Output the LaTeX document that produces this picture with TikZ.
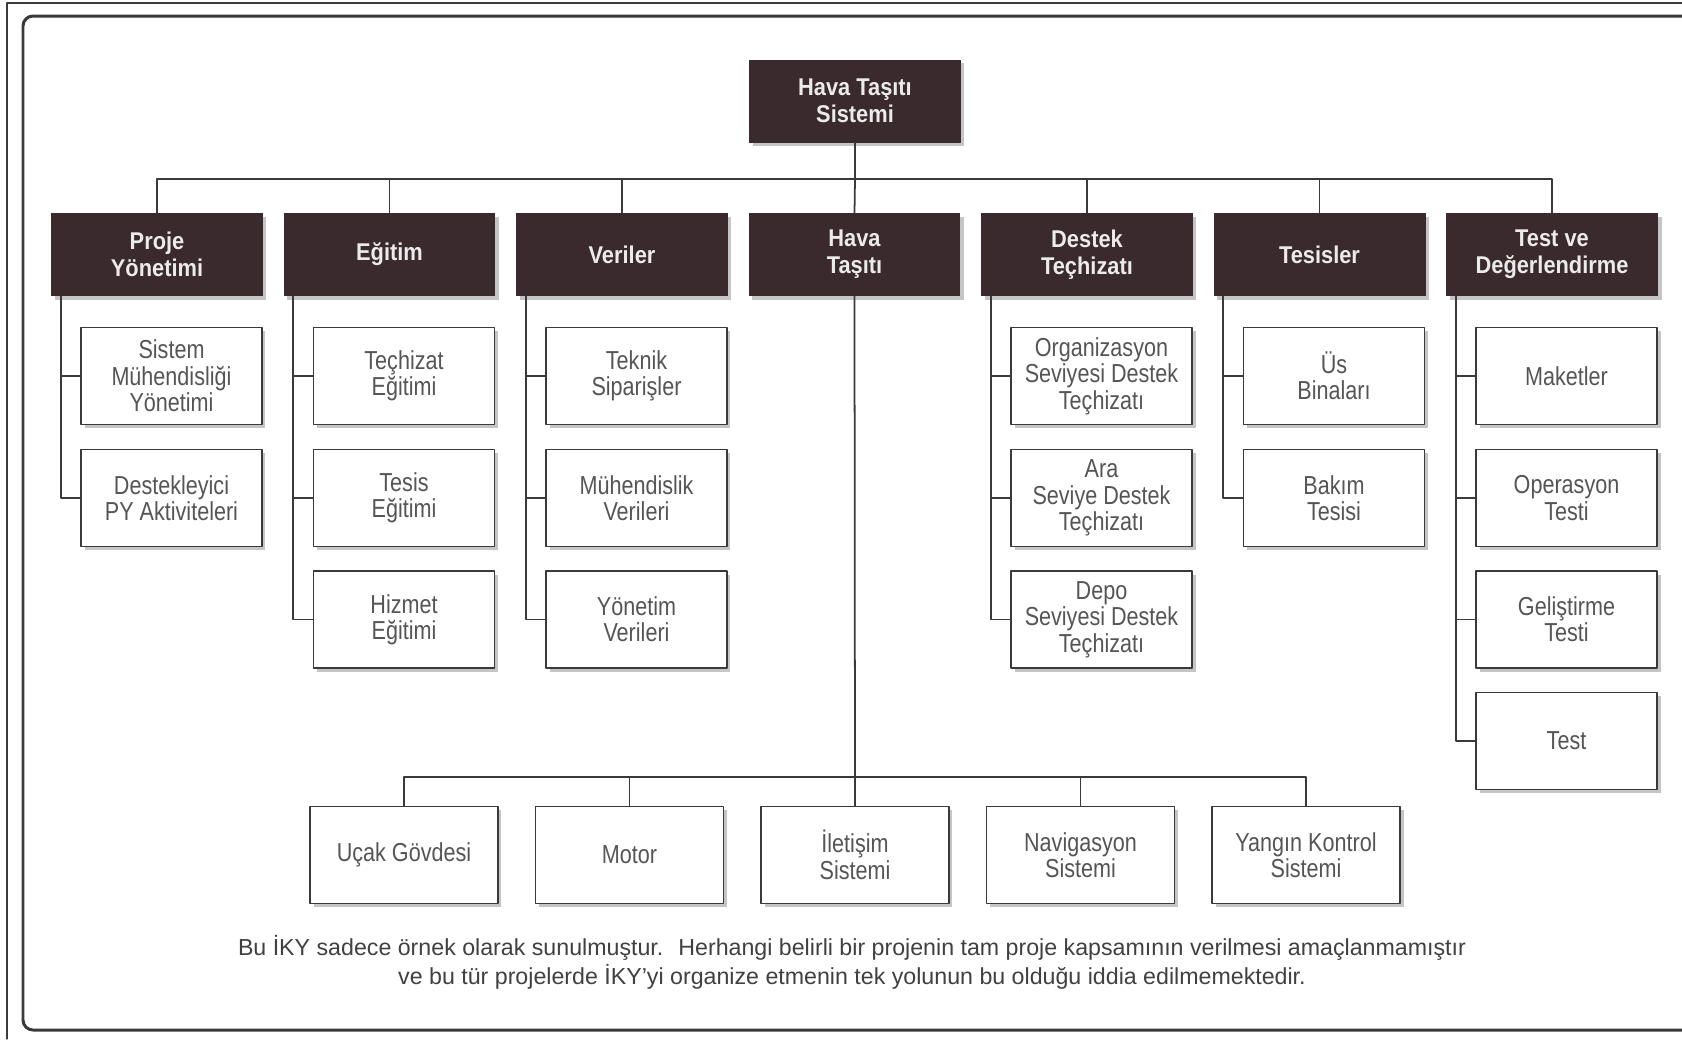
\documentclass[tikz,border=0pt]{standalone}
\usepackage{fontspec}
\setmainfont{Liberation Sans}
\newfontfamily\boxfont{Liberation Sans}[FakeStretch=0.83]
\newfontfamily\headfont{Liberation Sans}[FakeStretch=0.9]
\usetikzlibrary{shadows}
\definecolor{headfill}{HTML}{3B2A2D}
\definecolor{linegray}{HTML}{3A3A3A}
\definecolor{boxtext}{HTML}{555555}
\definecolor{notetext}{HTML}{404040}
\tikzset{
  head/.style={fill=headfill,text=white!92!black,align=center,inner sep=0pt,
    font=\headfont\bfseries\fontsize{13.8}{15.4}\selectfont,
    minimum width=4.24cm,minimum height=1.66cm,
    drop shadow={shadow xshift=0.07cm,shadow yshift=-0.07cm,fill=black!45,opacity=0.5}},
  leaf/.style={draw=linegray,line width=1pt,fill=white,text=boxtext,align=center,inner sep=0pt,
    font=\boxfont\fontsize{14.8}{15}\selectfont,
    minimum width=3.62cm,minimum height=1.94cm,
    drop shadow={shadow xshift=0.07cm,shadow yshift=-0.07cm,fill=black!45,opacity=0.5}},
  part/.style={leaf,minimum width=3.76cm},
  tree/.style={draw=linegray,line width=1pt}
}
\begin{document}
\begin{tikzpicture}[x=0.02cm,y=-0.02cm,line cap=round,line join=round]
  \useasboundingbox (0,0) rectangle (1682,1039);
  % frame
  \draw[linegray,line width=0.6pt] (7,1039) -- (7,3) -- (1682,3);
  \draw[linegray,line width=1.7pt,rounded corners=0.2cm] (23,16) rectangle (1720,1030);

  % top level
  \node[head] (sys) at (855,101) {Hava Taşıtı\\Sistemi};

  \node[head] (pm)   at (157,254.5)  {Proje\\Yönetimi};
  \node[head] (egt)  at (389.5,254.5) {Eğitim};
  \node[head] (ver)  at (622,254.5)  {Veriler};
  \node[head] (hava) at (854.5,254.5) {Hava\\Taşıtı};
  \node[head] (dst)  at (1087,254.5) {Destek\\Teçhizatı};
  \node[head] (tes)  at (1319.5,254.5) {Tesisler};
  \node[head] (tst)  at (1552,254.5) {Test ve\\Değerlendirme};

  \coordinate (bus) at (855,179);
  \draw[tree] (sys.south) -- (bus);
  \draw[tree] (pm.north) |- (bus);
  \draw[tree] (egt.north) |- (bus);
  \draw[tree] (ver.north) |- (bus);
  \draw[tree] (hava.north) -- (bus);
  \draw[tree] (dst.north) |- (bus);
  \draw[tree] (tes.north) |- (bus);
  \draw[tree] (tst.north) |- (bus);

  % Proje Yonetimi
  \node[leaf] (pm1) at (171.5,376) {Sistem\\Mühendisliği\\Yönetimi};
  \node[leaf] (pm2) at (171.5,498) {Destekleyici\\PY Aktiviteleri};
  \draw[tree] ([xshift=0.2cm]pm.south west) |- (pm2.west);
  \draw[tree] ([xshift=0.2cm]pm.south west) |- (pm1.west);

  % Egitim
  \node[leaf] (egt1) at (404,376) {Teçhizat\\Eğitimi};
  \node[leaf] (egt2) at (404,498) {Tesis\\Eğitimi};
  \node[leaf] (egt3) at (404,619.5) {Hizmet\\Eğitimi};
  \draw[tree] ([xshift=0.2cm]egt.south west) |- (egt3.west);
  \draw[tree] ([xshift=0.2cm]egt.south west) |- (egt2.west);
  \draw[tree] ([xshift=0.2cm]egt.south west) |- (egt1.west);

  % Veriler
  \node[leaf] (ver1) at (636.5,376) {Teknik\\Siparişler};
  \node[leaf] (ver2) at (636.5,498) {Mühendislik\\Verileri};
  \node[leaf] (ver3) at (636.5,619.5) {Yönetim\\Verileri};
  \draw[tree] ([xshift=0.2cm]ver.south west) |- (ver3.west);
  \draw[tree] ([xshift=0.2cm]ver.south west) |- (ver2.west);
  \draw[tree] ([xshift=0.2cm]ver.south west) |- (ver1.west);

  % Destek Techizati
  \node[leaf] (dst1) at (1101.5,376) {Organizasyon\\Seviyesi Destek\\Teçhizatı};
  \node[leaf] (dst2) at (1101.5,498) {Ara\\Seviye Destek\\Teçhizatı};
  \node[leaf] (dst3) at (1101.5,619.5) {Depo\\Seviyesi Destek\\Teçhizatı};
  \draw[tree] ([xshift=0.2cm]dst.south west) |- (dst3.west);
  \draw[tree] ([xshift=0.2cm]dst.south west) |- (dst2.west);
  \draw[tree] ([xshift=0.2cm]dst.south west) |- (dst1.west);

  % Tesisler
  \node[leaf] (tes1) at (1334,376) {Üs\\Binaları};
  \node[leaf] (tes2) at (1334,498) {Bakım\\Tesisi};
  \draw[tree] ([xshift=0.2cm]tes.south west) |- (tes2.west);
  \draw[tree] ([xshift=0.2cm]tes.south west) |- (tes1.west);

  % Test ve Degerlendirme
  \node[leaf] (tst1) at (1566.5,376) {Maketler};
  \node[leaf] (tst2) at (1566.5,498) {Operasyon\\Testi};
  \node[leaf] (tst3) at (1566.5,619.5) {Geliştirme\\Testi};
  \node[leaf] (tst4) at (1566.5,741) {Test};
  \draw[tree] ([xshift=0.2cm]tst.south west) |- (tst4.west);
  \draw[tree] ([xshift=0.2cm]tst.south west) |- (tst3.west);
  \draw[tree] ([xshift=0.2cm]tst.south west) |- (tst2.west);
  \draw[tree] ([xshift=0.2cm]tst.south west) |- (tst1.west);

  % Hava Tasiti parts
  \node[part] (ucak)   at (404,855)    {Uçak Gövdesi};
  \node[part] (motor)  at (629.5,855)  {Motor};
  \node[part] (ilet)   at (855,855)    {İletişim\\Sistemi};
  \node[part] (nav)    at (1080.5,855) {Navigasyon\\Sistemi};
  \node[part] (yangin) at (1306,855)   {Yangın Kontrol\\Sistemi};

  \coordinate (lowbus) at (855,777);
  \draw[tree] (hava.south) -- (ilet.north);
  \draw[tree] (ucak.north) |- (lowbus);
  \draw[tree] (motor.north) |- (lowbus);
  \draw[tree] (nav.north) |- (lowbus);
  \draw[tree] (yangin.north) |- (lowbus);

  \node[font=\fontsize{13.2}{16.5}\selectfont,text=notetext,align=center] (note) at (852,962.5)
    {Bu İKY sadece örnek olarak sunulmuştur.~ Herhangi belirli bir projenin tam proje kapsamının verilmesi amaçlanmamıştır\\
     ve bu tür projelerde İKY'yi organize etmenin tek yolunun bu olduğu iddia edilmemektedir.};
\end{tikzpicture}
\end{document}
